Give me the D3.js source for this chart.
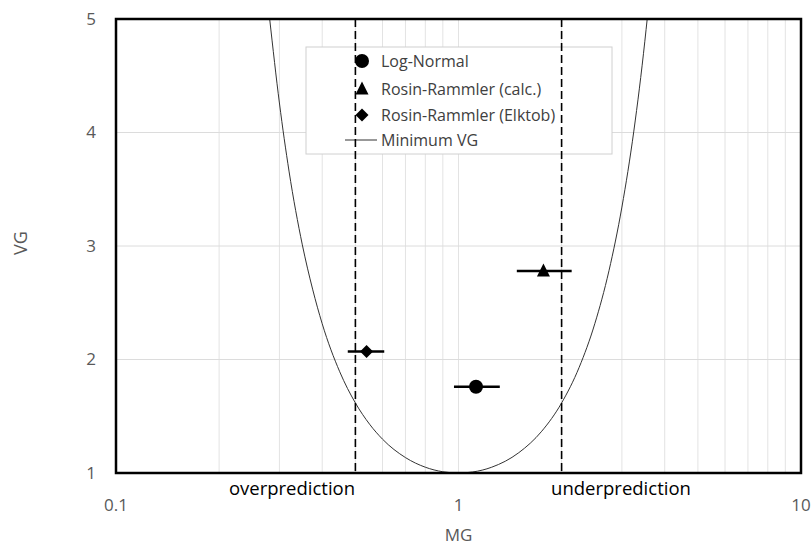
<!DOCTYPE html>
<html><head><meta charset="utf-8">
<script src="https://cdn.jsdelivr.net/npm/d3@7"></script>
<style>body{margin:0;background:#fff;} svg{display:block;font-family:"Open Sans",sans-serif;}</style>
</head><body><svg id="c" width="812" height="545"></svg>
<script>
// ---- data ----
const xTicks = [0.1, 1, 10];
const yTicks = [1, 2, 3, 4, 5];
const seriesNames = ["Log-Normal", "Rosin-Rammler (calc.)", "Rosin-Rammler (Elktob)"];
const seriesSymbols = ["circle", "triangle", "diamond"];
const seriesMG = [1.125, 1.77, 0.539];
const seriesVG = [1.76, 2.78, 2.07];
const seriesMGlow = [0.97, 1.48, 0.475];
const seriesMGhigh = [1.32, 2.14, 0.607];
const curveMG = [0.281, 0.3, 0.32, 0.35, 0.375, 0.4, 0.45, 0.5, 0.55, 0.6, 0.7, 0.8, 0.9, 1, 1.1, 1.25, 1.5, 1.75, 2, 2.25, 2.5, 2.75, 3, 3.25, 3.5, 3.56];
const curveVG = [5.0, 4.26, 3.66, 3.01, 2.62, 2.315, 1.892, 1.617, 1.43, 1.298, 1.136, 1.051, 1.011, 1.0, 1.009, 1.051, 1.179, 1.368, 1.617, 1.93, 2.315, 2.782, 3.343, 4.012, 4.804, 5.015];
const boundaries = [0.5, 2];
const regionLabels = ["overprediction", "underprediction"];
const curveName = "Minimum VG";

// ---- layout ----
const L = 116, R = 801, T = 19, B = 473;
const svg = d3.select("#c");
const x = d3.scaleLog().domain([0.1, 10]).range([L, R]);
const y = d3.scaleLinear().domain([1, 5]).range([B, T]);

// gridlines
const minor = [];
[0.1, 1].forEach(d => { for (let k = 2; k <= 9; k++) minor.push(d * k); });
minor.push(1);
svg.append("g").selectAll("line").data(minor).join("line")
  .attr("x1", d => x(d)).attr("x2", d => x(d)).attr("y1", T).attr("y2", B)
  .attr("stroke", "#e3e3e3").attr("stroke-width", 1);
svg.append("g").selectAll("line").data(yTicks.slice(1, -1)).join("line")
  .attr("x1", L).attr("x2", R).attr("y1", d => y(d)).attr("y2", d => y(d))
  .attr("stroke", "#dcdcdc").attr("stroke-width", 1);

// curve
svg.append("clipPath").attr("id", "clip").append("rect").attr("x", L).attr("y", T).attr("width", R - L).attr("height", B - T);
const line = d3.line().x(d => x(d[0])).y(d => y(d[1])).curve(d3.curveMonotoneX);
svg.append("path").datum(curveMG.map((m, i) => [m, curveVG[i]]))
  .attr("d", line).attr("fill", "none").attr("stroke", "#333").attr("stroke-width", 1)
  .attr("clip-path", "url(#clip)");

// marker drawing
function marker(g, s, cx, cy) {
  if (s === "circle") {
    g.append("circle").attr("cx", cx).attr("cy", cy).attr("r", 7).attr("fill", "#000");
  } else if (s === "triangle") {
    const w = 13;
    g.append("path").attr("d", `M${cx},${cy - 7.5}L${cx + w / 2},${cy + 5.5}L${cx - w / 2},${cy + 5.5}Z`).attr("fill", "#000");
  } else {
    const r = 6.5;
    g.append("path").attr("d", `M${cx},${cy - r}L${cx + r},${cy}L${cx},${cy + r}L${cx - r},${cy}Z`).attr("fill", "#000");
  }
}

// legend box
const lg = svg.append("g");
lg.append("rect").attr("x", 306).attr("y", 47).attr("width", 306).attr("height", 107)
  .attr("fill", "#fff").attr("stroke", "#d0d0d0").attr("stroke-width", 1);
const rowY = [61, 89, 115, 140];
seriesNames.forEach((n, i) => {
  marker(lg, seriesSymbols[i], 362, rowY[i]);
  lg.append("text").attr("x", 381).attr("y", rowY[i]).attr("dy", "0.35em")
    .attr("font-size", 16).attr("fill", "#404040").text(n);
});
lg.append("line").attr("x1", 345).attr("x2", 377).attr("y1", rowY[3]).attr("y2", rowY[3]).attr("stroke", "#333");
lg.append("text").attr("x", 381).attr("y", rowY[3]).attr("dy", "0.35em")
  .attr("font-size", 16).attr("fill", "#404040").text(curveName);

// dashed boundaries
svg.append("g").selectAll("line").data(boundaries).join("line")
  .attr("x1", d => x(d)).attr("x2", d => x(d)).attr("y1", T).attr("y2", B)
  .attr("stroke", "#000").attr("stroke-width", 1.6).attr("stroke-dasharray", "8,4");

// error bars + markers
seriesNames.forEach((n, i) => {
  svg.append("line").attr("x1", x(seriesMGlow[i])).attr("x2", x(seriesMGhigh[i]))
    .attr("y1", y(seriesVG[i])).attr("y2", y(seriesVG[i])).attr("stroke", "#000").attr("stroke-width", 2.5);
  marker(svg, seriesSymbols[i], x(seriesMG[i]), y(seriesVG[i]));
});

// frame
svg.append("rect").attr("x", L).attr("y", T).attr("width", R - L).attr("height", B - T)
  .attr("fill", "none").attr("stroke", "#000").attr("stroke-width", 2.5);

// tick labels
svg.append("g").selectAll("text").data(yTicks).join("text")
  .attr("x", 96).attr("y", d => y(d)).attr("dy", "0.35em").attr("text-anchor", "end")
  .attr("font-size", 17).attr("fill", "#595959").text(d => d);
svg.append("g").selectAll("text").data(xTicks).join("text")
  .attr("x", d => x(d)).attr("y", 505).attr("dy", "0.35em").attr("text-anchor", "middle")
  .attr("font-size", 17).attr("fill", "#595959").text(d => d);

// axis titles
svg.append("text").attr("x", x(1)).attr("y", 535).attr("dy", "0.35em").attr("text-anchor", "middle")
  .attr("font-size", 17).attr("fill", "#595959").text("MG");
svg.append("text").attr("transform", "translate(21,243) rotate(-90)").attr("dy", "0.35em").attr("text-anchor", "middle")
  .attr("font-size", 18).attr("fill", "#595959").text("VG");

// region labels
svg.append("g").selectAll("text").data(regionLabels).join("text")
  .attr("x", (d, i) => i === 0 ? 292 : 621).attr("y", 489).attr("dy", "0.35em").attr("text-anchor", "middle")
  .attr("font-size", 18.5).attr("fill", "#000").text(d => d);
</script></body></html>
